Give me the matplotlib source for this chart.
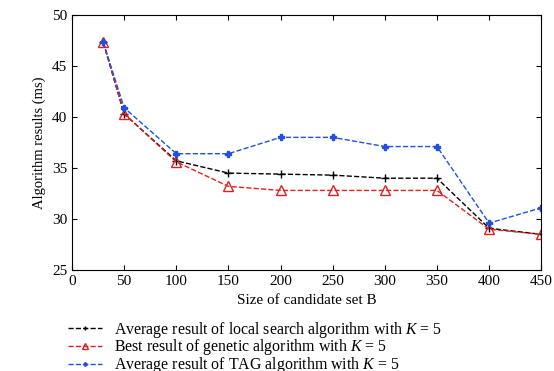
import matplotlib
matplotlib.use('Agg')
import matplotlib.pyplot as plt

plt.rcParams['font.family'] = ['Liberation Serif', 'DejaVu Serif']
plt.rcParams['mathtext.fontset'] = 'custom'
plt.rcParams['mathtext.rm'] = 'Liberation Serif'
plt.rcParams['mathtext.it'] = 'Liberation Serif:italic'

# data
sizes = [30, 50, 100, 150, 200, 250, 300, 350, 400, 450]
local_avg = [47.3, 40.3, 35.7, 34.5, 34.4, 34.3, 34.0, 34.0, 29.1, 28.5]
genetic_best = [47.3, 40.3, 35.6, 33.2, 32.8, 32.8, 32.8, 32.8, 29.0, 28.5]
tag_avg = [47.3, 40.9, 36.4, 36.4, 38.0, 38.0, 37.1, 37.1, 29.6, 31.1]
labels = ['Average result of local search algorithm with $K$ = 5',
          'Best result of genetic algorithm with $K$ = 5',
          'Average result of TAG algorithm with $K$ = 5']

fig = plt.figure(figsize=(5.54, 3.71), dpi=100)
ax = fig.add_axes([0.130, 0.272, 0.847, 0.688])

ax.plot(sizes, local_avg, '--', color='black', marker='+', ms=6, lw=1, label=labels[0])
ax.plot(sizes, genetic_best, '--', color='#e02020', marker='^', ms=7, mfc='none', lw=1, label=labels[1])
ax.plot(sizes, tag_avg, '--', color='#2050e0', marker='P', ms=4, lw=1, label=labels[2])

ax.set_xlim(0, 450)
ax.set_ylim(25, 50)
ax.set_xticks(range(0, 451, 50))
ax.set_yticks(range(25, 51, 5))
ax.tick_params(direction='in', top=True, right=True, labelsize=11)
ax.set_xlabel('Size of candidate set B', fontsize=11)
ax.set_ylabel('Algorithm results (ms)', fontsize=10.5)

fig.legend(loc='upper left', bbox_to_anchor=(0.122, 0.138), frameon=False,
           fontsize=11.4, handlelength=2.2, handletextpad=0.7, markerscale=0.6,
           labelspacing=-0.15, borderaxespad=0, borderpad=0)

fig.savefig('out.png', dpi=100)
